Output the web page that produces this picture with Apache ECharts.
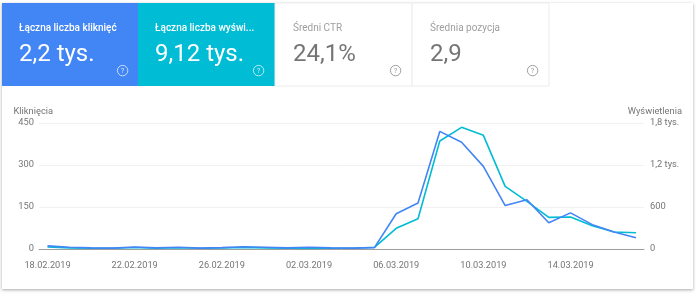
<!DOCTYPE html>
<html><head><meta charset="utf-8">
<style>html,body{margin:0;padding:0;background:#fff}#c{width:697px;height:294px}</style>
<script src="https://cdn.jsdelivr.net/npm/echarts@6/dist/echarts.min.js"></script></head>
<body><div id="c"></div>
<script>
const categories = ['18.02.2019','19.02.2019','20.02.2019','21.02.2019','22.02.2019','23.02.2019','24.02.2019','25.02.2019','26.02.2019','27.02.2019','28.02.2019','01.03.2019','02.03.2019','03.03.2019','04.03.2019','05.03.2019','06.03.2019','07.03.2019','08.03.2019','09.03.2019','10.03.2019','11.03.2019','12.03.2019','13.03.2019','14.03.2019','15.03.2019','16.03.2019','17.03.2019'];
const clicks = [11,6,4,3,7,4,6,3,5,8,6,4,6,4,3,5,126,164,420,381,295,155,176,94,129,87,61,40];
const impressions = [28,16,12,10,22,12,18,10,14,22,16,12,16,12,10,24,295,433,1543,1738,1624,895,681,452,457,333,243,233];
const leftTicks = ['0','150','300','450'];
const rightTicks = ['0','600','1,2 tys.','1,8 tys.'];
const labelledDays = [0,4,8,12,16,20,24];
const cards = [
 {title:'Łączna liczba kliknięć', value:'2,2 tys.', x:2, w:136, fill:'#4285f4', fg:'#fff', tc:'#fff'},
 {title:'Łączna liczba wyświ...', value:'9,12 tys.', x:138, w:137, fill:'#00bcd4', fg:'#fff', tc:'#fff'},
 {title:'Średni CTR', value:'24,1%', x:275, w:137, fill:'#fff', fg:'#757575', tc:'#9e9e9e'},
 {title:'Średnia pozycja', value:'2,9', x:412, w:137, fill:'#fff', fg:'#757575', tc:'#9e9e9e'}
];
const F = 'Roboto';
const g = [];
g.push({type:'rect',z:0,shape:{x:2,y:3,width:691,height:286},style:{fill:'#fff',shadowBlur:3,shadowColor:'rgba(0,0,0,.35)',shadowOffsetY:1}});
cards.forEach((c,i)=>{
 g.push({type:'rect',z:1,shape:{x:c.x,y:3,width:c.w,height:83},style:{fill:c.fill,stroke:c.fill==='#fff'?'#ececec':c.fill,lineWidth:c.fill==='#fff'?1:0}});
 g.push({type:'text',z:2,x:c.x+(i<2?17:18),y:23,style:{text:c.title,fill:c.tc,font:(i<2?'500 ':'')+'10px '+F}});
 g.push({type:'text',z:2,x:c.x+(i<2?17:18),y:43,style:{text:c.value,fill:c.fg,font:'24px '+F}});
 g.push({type:'circle',z:2,shape:{cx:c.x+120.6,cy:70.6,r:5.2},style:{fill:'none',stroke:i<2?'rgba(255,255,255,.7)':'#9e9e9e',lineWidth:1}});
 g.push({type:'text',z:3,x:c.x+120.6,y:70.8,style:{text:'?',fill:i<2?'rgba(255,255,255,.8)':'#9e9e9e',font:'7.5px '+F,align:'center',verticalAlign:'middle'}});
});
const chart = echarts.init(document.getElementById('c'),null,{renderer:'canvas'});
chart.setOption({
 animation:false,
 graphic:g,
 textStyle:{fontFamily:F},
 grid:{left:39,right:53,top:123,bottom:45,containLabel:false},
 xAxis:{type:'value',min:-0.39,max:27.37,
  axisTick:{show:false},axisLine:{lineStyle:{color:'#9e9e9e',width:1}},
  axisLabel:{color:'#757575',fontSize:9.2,margin:12,customValues:labelledDays,formatter:v=>categories[v]},splitLine:{show:false}},
 yAxis:[
  {type:'value',min:0,max:450,interval:150,name:'Kliknięcia',nameLocation:'end',nameGap:7,
   nameTextStyle:{color:'#757575',fontSize:9.3,align:'left',padding:[0,0,0,-34]},
   axisLine:{show:false},axisTick:{show:false},
   axisLabel:{color:'#757575',fontSize:9.3,margin:5,formatter:v=>leftTicks[v/150]},
   splitLine:{lineStyle:{color:'#f1f1f1',width:1}}},
  {type:'value',min:0,max:1800,interval:600,name:'Wyświetlenia',nameLocation:'end',nameGap:7,
   nameTextStyle:{color:'#757575',fontSize:9.3,align:'right',padding:[0,-38,0,0]},
   axisLine:{show:false},axisTick:{show:false},
   axisLabel:{color:'#757575',fontSize:9.3,margin:6,formatter:v=>rightTicks[v/600]},
   splitLine:{show:false}}
 ],
 series:[
  {name:'Wyświetlenia',type:'line',yAxisIndex:1,data:impressions.map((v,i)=>[i,v]),symbol:'none',lineStyle:{color:'#00bcd4',width:1.6}},
  {name:'Kliknięcia',type:'line',yAxisIndex:0,data:clicks.map((v,i)=>[i,v]),symbol:'none',lineStyle:{color:'#4285f4',width:1.6}}
 ]
});
</script></body></html>
